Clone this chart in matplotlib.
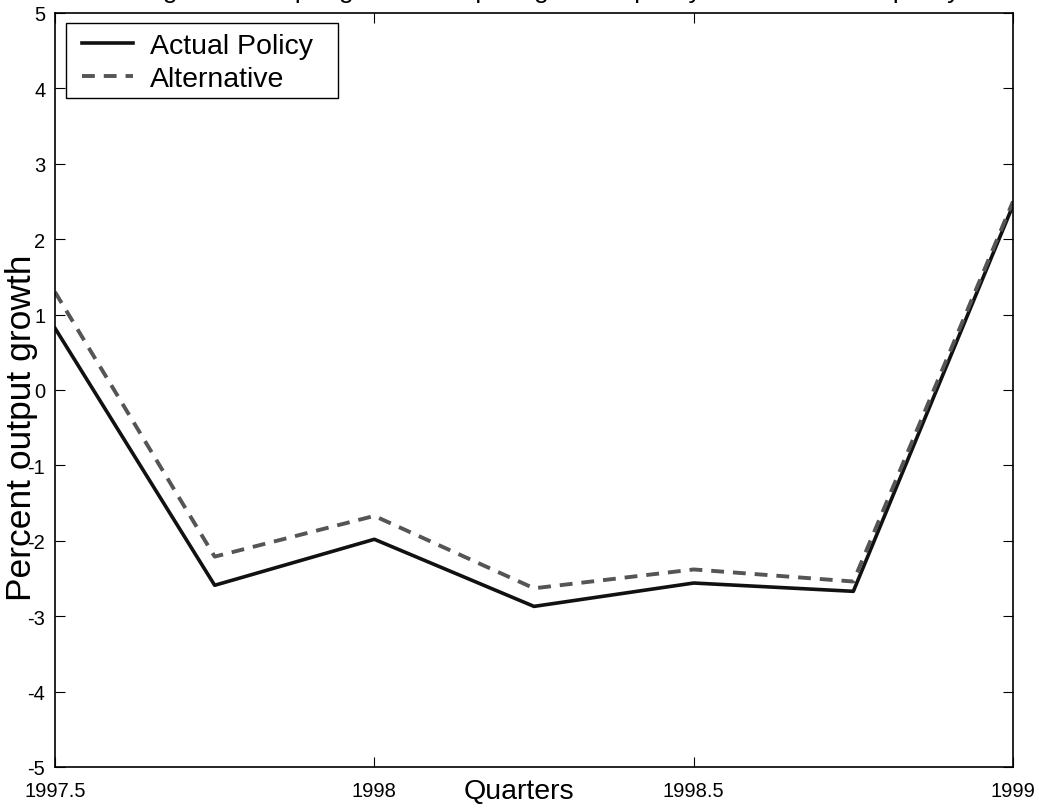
import matplotlib
matplotlib.use("Agg")
from matplotlib import pyplot as plt
from matplotlib.patches import Rectangle

plt.rcParams['font.family'] = ['Liberation Sans', 'DejaVu Sans']
plt.rcParams['axes.unicode_minus'] = False

quarters = [1997.5, 1997.75, 1998.0, 1998.25, 1998.5, 1998.75, 1999.0]
actual = [0.82, -2.59, -1.98, -2.87, -2.56, -2.67, 2.45]
alternative = [1.30, -2.21, -1.67, -2.63, -2.38, -2.54, 2.50]
names = ["Actual Policy", "Alternative"]
x_ticks = [1997.5, 1998, 1998.5, 1999]
x_tick_labels = ["1997.5", "1998", "1998.5", "1999"]
y_ticks = list(range(-5, 6))

fig = plt.figure(figsize=(10.39, 8.12), dpi=100)
ax = fig.add_axes([55/1039, 44/812, 958/1039, 754/812])

ax.plot(quarters, actual, color='#111111', lw=2.6, label=names[0])
ax.plot(quarters, alternative, color='#555555', lw=2.8, dashes=(3.3, 2.3), label=names[1])

ax.set_xlim(1997.5, 1999)
ax.set_ylim(-5, 5)
ax.set_xticks(x_ticks)
ax.set_xticklabels(x_tick_labels)
ax.set_yticks(y_ticks)
ax.tick_params(direction='in', length=7.5, width=0.8, top=True, right=True,
               labelsize=14.5, colors='black')
ax.tick_params(axis='x', pad=10)
ax.tick_params(axis='y', pad=7)
for s in ax.spines.values():
    s.set_linewidth(1.2)

ax.set_xlabel("Quarters", fontsize=20.5, va='center')
ax.xaxis.set_label_coords(0.484, -0.032)
ax.set_ylabel("Percent output growth", fontsize=25.5, va='center')
ax.yaxis.set_label_coords(-0.0345, 0.451)

# legend entries without frame, box drawn separately (MATLAB-like padding)
leg = ax.legend(loc='upper left', bbox_to_anchor=(0.028, 0.974), borderaxespad=0,
                frameon=False, fontsize=20.5, handlelength=1.8, borderpad=0,
                labelspacing=0.27, handletextpad=0.6)
box = Rectangle((11/958, 1 - 85/754), 272/958, 75/754, transform=ax.transAxes,
                facecolor='white', edgecolor='black', lw=1.0, zorder=4)
ax.add_patch(box)
leg.set_zorder(5)

# title sits mostly above the canvas, only descenders show
fig.text(0.53, 1.003, "Figure 3: Output growth comparing actual policy with alternative policy",
         ha='center', va='baseline', fontsize=19)

fig.savefig("out.png", dpi=100)
